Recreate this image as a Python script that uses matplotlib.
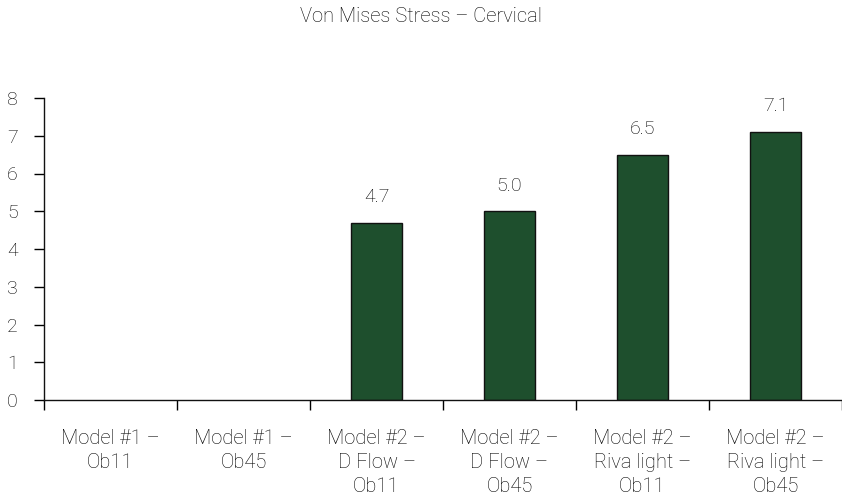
import numpy as np
import matplotlib
matplotlib.use("Agg")
import matplotlib.pyplot as plt

plt.rcParams['font.family'] = ['Roboto', 'DejaVu Sans']

categories = ["Model #1 –\nOb11", "Model #1 –\nOb45", "Model #2 –\nD Flow –\nOb11",
              "Model #2 –\nD Flow –\nOb45", "Model #2 –\nRiva light –\nOb11",
              "Model #2 –\nRiva light –\nOb45"]
values = [np.nan, np.nan, 4.7, 5.0, 6.5, 7.1]
yticks = [0, 1, 2, 3, 4, 5, 6, 7, 8]

txt = "#000000"
fw = "light"

fig = plt.figure(figsize=(8.42, 4.97), dpi=100)
ax = fig.add_axes([44/842, 1 - 400/497, 1 - 44/842, (400 - 98)/497])

x = np.arange(len(categories))
ax.bar(x, values, width=0.385, color="#1e4f2d", edgecolor="#111111", linewidth=1)

for xi, v in zip(x, values):
    if v > 0:
        ax.annotate(f"{v:.1f}", (xi, v), xytext=(0, 12), textcoords="offset points",
                    ha="center", va="bottom", fontsize=14, color=txt, fontweight=fw)

ax.set_xlim(-0.5, len(categories) - 0.5)
ax.set_ylim(0, 8)
ax.set_yticks(yticks)
ax.set_yticklabels([str(t) for t in yticks], fontsize=14, color=txt, fontweight=fw)
ax.tick_params(axis="y", length=7, width=1, pad=12)

ax.set_xticks(np.arange(len(categories) + 1) - 0.5)
ax.set_xticklabels([])
ax.tick_params(axis="x", which="major", length=7, width=1)
ax.set_xticks(x, minor=True)
ax.set_xticklabels(categories, minor=True, fontsize=14.5, color=txt, fontweight=fw,
                   linespacing=1.32)
ax.tick_params(axis="x", which="minor", length=0, pad=21)

for s in ["top", "right"]:
    ax.spines[s].set_visible(False)
for s in ["left", "bottom"]:
    ax.spines[s].set_color("#111111")
    ax.spines[s].set_linewidth(1)

fig.text(0.5, 1 - 17/497, "Von Mises Stress – Cervical", ha="center", va="center",
         fontsize=14.5, color=txt, fontweight=fw)

fig.savefig("out.png", dpi=100)
